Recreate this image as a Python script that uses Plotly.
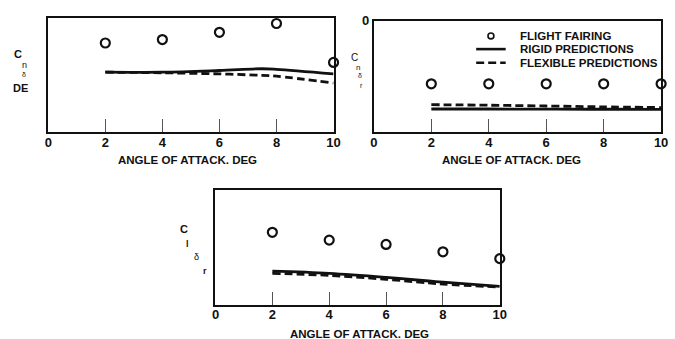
import plotly.graph_objects as go

# Angle of attack stations (deg)
alpha_pts = [2, 4, 6, 8, 10]
alpha_curve = [2, 4, 6, 7.5, 8, 10]

# Directional control derivative, differential elevator (normalised units)
cn_dde_flight = [0.78, 0.81, 0.873, 0.95, 0.61]
cn_dde_rigid = [0.525, 0.525, 0.54, 0.555, 0.55, 0.51]
cn_dde_flex = [0.525, 0.52, 0.51, 0.497, 0.49, 0.43]

# Directional control derivative, rudder
cn_dr_flight = [-0.565, -0.565, -0.565, -0.565, -0.565]
cn_dr_rigid = [-0.791, -0.791, -0.792, -0.793, -0.793, -0.795]
cn_dr_flex = [-0.752, -0.757, -0.764, -0.77, -0.772, -0.778]

# Rolling moment due to rudder (normalised units)
cl_dr_flight = [0.632, 0.564, 0.526, 0.462, 0.402]
cl_dr_rigid = [0.293, 0.274, 0.239, 0.207, 0.197, 0.16]
cl_dr_flex = [0.274, 0.256, 0.222, 0.19, 0.18, 0.154]

x_ticks = [0, 2, 4, 6, 8, 10]
x_title = "ANGLE OF ATTACK. DEG"
legend_names = ["FLIGHT FAIRING", "RIGID PREDICTIONS", "FLEXIBLE PREDICTIONS"]

FONT = "Liberation Sans, Arial, sans-serif"
INK = "#111111"
W, H = 675, 339

fig = go.Figure()

panels = [
    ("x", "y", cn_dde_flight, cn_dde_rigid, cn_dde_flex),
    ("x2", "y2", cn_dr_flight, cn_dr_rigid, cn_dr_flex),
    ("x3", "y3", cl_dr_flight, cl_dr_rigid, cl_dr_flex),
]

for xa, ya, flight, rigid, flex in panels:
    fig.add_trace(go.Scatter(
        x=alpha_curve, y=rigid, xaxis=xa, yaxis=ya, mode="lines",
        line=dict(color=INK, width=2.8, shape="spline"),
        name=legend_names[1], showlegend=False))
    fig.add_trace(go.Scatter(
        x=alpha_curve, y=flex, xaxis=xa, yaxis=ya, mode="lines",
        line=dict(color=INK, width=2.8, dash="8px,4px", shape="spline"),
        name=legend_names[2], showlegend=False))
    fig.add_trace(go.Scatter(
        x=alpha_pts, y=flight, xaxis=xa, yaxis=ya, mode="markers",
        marker=dict(symbol="circle-open", size=9, color=INK, line=dict(width=2.2)),
        cliponaxis=False, name=legend_names[0], showlegend=False))


def dom_x(a, b):
    return [a / W, b / W]


def dom_y(top, bottom):
    return [1 - bottom / H, 1 - top / H]


xaxis_common = dict(
    range=[0, 10], tickvals=x_ticks, ticks="inside", ticklen=13, tickwidth=1,
    tickcolor="#555555", showline=True, linewidth=2.2, linecolor=INK, mirror=True,
    showgrid=False, zeroline=False, ticklabelstandoff=-3,
    tickfont=dict(family=FONT, size=13, color=INK, weight="bold"),
)
yaxis_common = dict(
    showline=True, linewidth=2.2, linecolor=INK, mirror=True,
    showgrid=False, zeroline=False, ticks="",
)

fig.update_layout(
    width=W, height=H, margin=dict(l=0, r=0, t=0, b=0),
    paper_bgcolor="white", plot_bgcolor="white", showlegend=False,
    xaxis=dict(domain=dom_x(45, 335), anchor="y", **xaxis_common),
    yaxis=dict(domain=dom_y(11, 128), anchor="x", range=[0, 1], showticklabels=False, **yaxis_common),
    xaxis2=dict(domain=dom_x(376, 668), anchor="y2", **xaxis_common),
    yaxis2=dict(domain=dom_y(14, 128), anchor="x2", range=[-1, 0], tickvals=[0], ticktext=["0"],
                tickfont=dict(family=FONT, size=13, color=INK, weight="bold"), **yaxis_common),
    xaxis3=dict(domain=dom_x(215, 504), anchor="y3", **xaxis_common),
    yaxis3=dict(domain=dom_y(187, 304), anchor="x3", range=[0, 1], showticklabels=False, **yaxis_common),
)


def text(s, x, y, size=11, bold=True, anchor="center"):
    fig.add_annotation(text=s, x=x / W, y=1 - y / H, xref="paper", yref="paper",
                       showarrow=False, xanchor=anchor, yanchor="middle",
                       font=dict(family=FONT, size=size, color=INK,
                                 weight="bold" if bold else "normal"))


# Abscissa titles
text(x_title, 187, 156, size=11.5)
text(x_title, 516, 156, size=11.5)
text(x_title, 361, 334, size=11.5)

# Stacked symbol labels for each ordinate
text("C", 14, 48)
text("n", 21, 59, size=9, bold=False)
text("δ", 20, 69, size=7, bold=False)
text("DE", 17, 83)

text("C", 356, 52, size=10, bold=False)
text("n", 360, 62, size=8, bold=False)
text("δ", 362, 70, size=7, bold=False)
text("r", 363, 80, size=7, bold=False)

text("C", 183, 227)
text("l", 187, 242, size=9)
text("δ", 196, 255, size=9, bold=False)
text("r", 204, 270, size=9)

# Key
rows = [29.5, 43, 57]
for name, ry in zip(legend_names, rows):
    text(name, 523, ry, size=11.5, anchor="left")


def px(x):
    return x / W


def py(y):
    return 1 - y / H


fig.add_shape(type="circle", xref="paper", yref="paper",
              x0=px(492), x1=px(498), y0=py(32.5), y1=py(26.5),
              line=dict(color=INK, width=1.6))
fig.add_shape(type="line", xref="paper", yref="paper",
              x0=px(480), x1=px(510), y0=py(rows[1]), y1=py(rows[1]),
              line=dict(color=INK, width=2.6))
fig.add_shape(type="line", xref="paper", yref="paper",
              x0=px(480), x1=px(510), y0=py(rows[2]), y1=py(rows[2]),
              line=dict(color=INK, width=2.6, dash="8px,4px"))

fig.write_html("out.html")
